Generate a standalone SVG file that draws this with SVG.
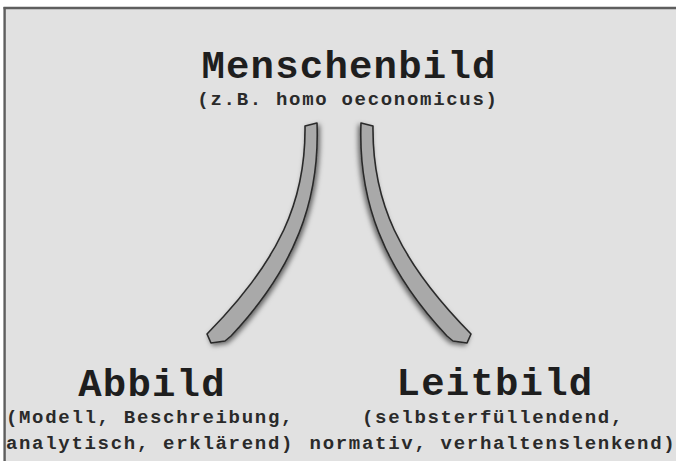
<svg xmlns="http://www.w3.org/2000/svg" width="676" height="461" viewBox="0 0 676 461">
  <defs>
    <style>
      .title { font-family: "Liberation Mono", "DejaVu Sans Mono", monospace; font-weight: bold; font-size: 39px; letter-spacing: 1.2px; fill: #1e1e1e; text-anchor: middle; }
      .sub { font-family: "Liberation Mono", "DejaVu Sans Mono", monospace; font-weight: bold; font-size: 19px; letter-spacing: 1.7px; fill: #2a2a2a; text-anchor: middle; }
      .band { fill: #a9a9a9; stroke: #2b2b2b; stroke-width: 1.6; stroke-linejoin: round; filter: url(#shadow); }
    </style>
    <filter id="shadow" x="-50%" y="-20%" width="200%" height="140%">
      <feDropShadow dx="2" dy="2" stdDeviation="2.5" flood-color="#000" flood-opacity="0.55"/>
    </filter>
    <path id="bandShape" d="M305,126 L317,123 C320,200 295,268 231,336 L225,341 L211,343 L207,334 C280,260 306,200 305,126 Z"/>
  </defs>

  <rect x="0" y="0" width="676" height="461" fill="#ffffff"/>
  <rect x="4.5" y="8" width="672" height="454" fill="#e1e1e1"/>
  <line x1="3.5" y1="8" x2="676" y2="8" stroke="#5e5e5e" stroke-width="2.6"/>
  <line x1="4.6" y1="7" x2="4.6" y2="461" stroke="#5e5e5e" stroke-width="2.4"/>

  <g id="connectors">
    <use href="#bandShape" class="band"/>
    <use href="#bandShape" class="band" transform="translate(678,0) scale(-1,1)"/>
  </g>

  <g id="node-menschenbild">
    <text class="title" x="349" y="78">Menschenbild</text>
    <text class="sub" x="348" y="105">(z.B. homo oeconomicus)</text>
  </g>

  <g id="node-abbild">
    <text class="title" x="152" y="396">Abbild</text>
    <text class="sub" x="150" y="423">(Modell, Beschreibung,</text>
    <text class="sub" x="150" y="449">analytisch, erklärend)</text>
  </g>

  <g id="node-leitbild">
    <text class="title" x="495" y="395">Leitbild</text>
    <text class="sub" x="493" y="423">(selbsterfüllendend,</text>
    <text class="sub" x="493" y="449">normativ, verhaltenslenkend)</text>
  </g>
</svg>
